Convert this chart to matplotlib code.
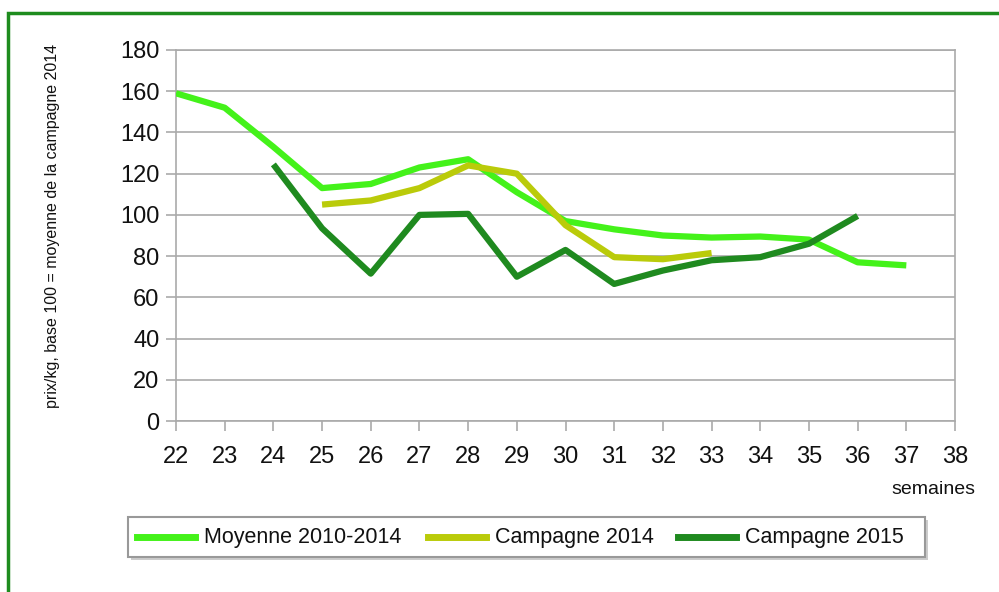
import matplotlib
matplotlib.use('Agg')
from matplotlib import pyplot as plt
from matplotlib.patches import Rectangle, FancyBboxPatch

# donnees
semaines = list(range(22, 39))
sem_moy = list(range(22, 38))
moyenne = [159, 152, 133, 113, 115, 123, 127, 111, 97, 93, 90, 89, 89.5, 88, 77, 75.5]
sem_2014 = list(range(25, 34))
camp_2014 = [105, 107, 113, 124, 120, 95, 79.5, 78.5, 81.5]
sem_2015 = list(range(24, 37))
camp_2015 = [124.5, 93.5, 71.5, 100, 100.5, 70, 83, 66.5, 73, 78, 79.5, 86, 99.5]
yticks = list(range(0, 181, 20))

plt.rcParams['font.family'] = ['Liberation Sans', 'DejaVu Sans']

fig = plt.figure(figsize=(9.99, 5.92), dpi=100)
ax = fig.add_axes([176/999, 1 - 421/592, (955-176)/999, (421-50)/592])

ax.plot(sem_moy, moyenne, color='#44F21A', lw=4.5, solid_capstyle='butt', zorder=3)
ax.plot(sem_2014, camp_2014, color='#BACB0A', lw=4.5, solid_capstyle='butt', zorder=3)
ax.plot(sem_2015, camp_2015, color='#1F8A1F', lw=4.5, solid_capstyle='butt', zorder=4)

ax.set_xlim(22, 38)
ax.set_ylim(0, 180)
ax.set_xticks(semaines)
ax.set_yticks(yticks)
ax.grid(axis='y', color='#AAAAAA', lw=1.2)
ax.set_axisbelow(True)
for s in ['top', 'left', 'right', 'bottom']:
    ax.spines[s].set_color('#AAAAAA')
    ax.spines[s].set_linewidth(1.2)
ax.tick_params(axis='both', colors='#AAAAAA', labelcolor='#111111', labelsize=17,
               length=7, width=1.2)
ax.tick_params(axis='x', pad=11)
ax.tick_params(axis='y', pad=5)

ax.set_ylabel('prix/kg, base 100 = moyenne de la campagne 2014', fontsize=11.5,
              color='#111111')
ax.yaxis.set_label_coords(-116/779, 0.525)
fig.text(975/999, 1 - 489/592, 'semaines', ha='right', va='center', fontsize=14,
         color='#111111')

# legende dans un cadre
box = FancyBboxPatch((128/999, 1 - 557/592), (925-128)/999, 40/592,
                     boxstyle='square,pad=0', transform=fig.transFigure,
                     facecolor='white', edgecolor='#999999', lw=1.5, zorder=1)
shadow = Rectangle((131/999, 1 - 560/592), (925-128)/999, 40/592,
                   transform=fig.transFigure, facecolor='#CCCCCC', edgecolor='none', zorder=0)
fig.patches.extend([shadow, box])
leg_items = [('Moyenne 2010-2014', '#44F21A', 137),
             ('Campagne 2014', '#BACB0A', 428),
             ('Campagne 2015', '#1F8A1F', 678)]
for label, col, x0 in leg_items:
    yl = 1 - 537/592
    fig.lines.append(plt.Line2D([x0/999, (x0+58)/999], [yl, yl], transform=fig.transFigure,
                                color=col, lw=5))
    fig.text((x0+67)/999, yl, label, ha='left', va='center', fontsize=15.5, color='#111111')

# cadre vert exterieur
fig.patches.append(Rectangle((8/999, -0.05), 1.05, 1 - 13/592 + 0.05,
                             transform=fig.transFigure, facecolor='none',
                             edgecolor='#1E8C1E', lw=2.5))

fig.savefig('out.png', dpi=100)
